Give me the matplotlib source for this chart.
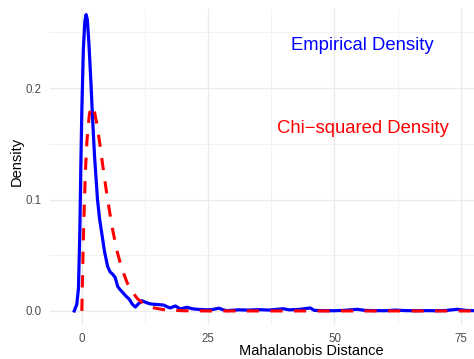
import matplotlib.pyplot as plt

plt.rcParams["font.family"] = ["Liberation Sans", "DejaVu Sans"]

# empirical density of the Mahalanobis distances
emp_x = [-1.5, -1.0, -0.67, -0.4, -0.2, 0.0, 0.3, 0.6, 0.85, 1.1, 1.4, 1.8,
         2.1, 2.5, 3.1, 3.5, 4.0, 4.5, 5.1, 5.6, 6.1, 6.6, 7.1, 7.6, 8.2,
         8.8, 9.4, 10.0, 10.6, 11.2, 11.9, 12.6, 13.4, 14.2, 15.2, 16.2,
         17.0, 17.5, 18.5, 19.5, 20.8, 21.8, 22.8, 24.8, 26.0, 27.1, 28.0,
         28.7, 31.0, 33.0, 35.0, 37.0, 39.9, 41.0, 43.0, 45.2, 46.0, 48.0,
         50.0, 52.0, 54.5, 56.0, 58.0, 60.0, 62.0, 64.0, 66.0, 68.0, 70.0,
         72.0, 74.3, 76.0, 78.0]
emp_y = [0.0, 0.006, 0.02, 0.07, 0.13, 0.18, 0.235, 0.26, 0.266, 0.261,
         0.24, 0.205, 0.175, 0.14, 0.1, 0.083, 0.068, 0.053, 0.04, 0.035,
         0.033, 0.03, 0.022, 0.019, 0.016, 0.013, 0.0105, 0.006, 0.0035,
         0.0065, 0.0092, 0.0078, 0.0065, 0.006, 0.0057, 0.0053, 0.0035,
         0.0027, 0.0045, 0.0018, 0.0033, 0.002, 0.0015, 0.001, 0.0014,
         0.0025, 0.001, 0.0003, 0.001, 0.0008, 0.0012, 0.0008, 0.002, 0.001,
         0.0014, 0.0027, 0.0005, 0.0003, 0.0002, 0.0006, 0.0015, 0.0005,
         0.0003, 0.0002, 0.0008, 0.0003, 0.0002, 0.0003, 0.0002, 0.0004,
         0.0015, 0.0005, 0.0002]

# chi-squared reference density
chi_x = [0.0, 0.25, 0.5, 0.75, 1.0, 1.5, 2.0, 2.5, 3.0, 3.5, 4.0, 5.0, 6.0,
         7.0, 8.0, 9.0, 10.0, 11.0, 12.0, 14.0, 16.0, 18.0, 20.0, 25.0, 78.0]
chi_y = [0.0, 0.055, 0.097, 0.129, 0.152, 0.177, 0.184, 0.179, 0.167, 0.152,
         0.135, 0.103, 0.075, 0.053, 0.037, 0.025, 0.017, 0.011, 0.0074,
         0.003, 0.0013, 0.0006, 0.0002, 0.0, 0.0]

x_ticks = [0, 25, 50, 75]
y_ticks = [0.0, 0.1, 0.2]

fig = plt.figure(figsize=(4.74, 3.59), dpi=100)
# the panel runs past the right edge, as in the reference
ax = fig.add_axes([50 / 474, 1 - 325 / 359, 522 / 474, 316 / 359])

ax.plot(emp_x, emp_y, color="#0000FF", linewidth=2.3, zorder=3)
ax.plot(chi_x, chi_y, color="#FF0000", linewidth=2.2, dashes=(4, 3.7),
        dash_capstyle="butt", zorder=4)

ax.text(55.6, 0.238, "Empirical Density", color="#0000FF", fontsize=13.3,
        ha="center", va="center")
ax.text(55.6, 0.164, "Chi\u2212squared Density", color="#FF0000", fontsize=13.3,
        ha="center", va="center")

ax.set_xlim(-6.3, 97)
ax.set_ylim(-0.0126, 0.271)

ax.set_xticks(x_ticks)
ax.set_xticklabels([str(t) for t in x_ticks])
ax.set_xticks([12.5, 37.5, 62.5, 87.5], minor=True)
ax.set_yticks(y_ticks)
ax.set_yticklabels(["0.0", "0.1", "0.2"])
ax.set_yticks([0.05, 0.15, 0.25], minor=True)

ax.grid(True, which="major", color="#EBEBEB", linewidth=1.0)
ax.grid(True, which="minor", color="#F2F2F2", linewidth=0.7)
ax.set_axisbelow(True)

for s in ax.spines.values():
    s.set_visible(False)

ax.tick_params(which="both", length=0, labelsize=8.3, labelcolor="#4D4D4D")
ax.tick_params(axis="x", pad=6)
ax.tick_params(axis="y", pad=6)

ax.set_xlabel("Mahalanobis Distance", fontsize=10.5)
ax.set_ylabel("Density", fontsize=10.5)
ax.xaxis.set_label_coords((311 - 50) / 522, (325 - 344) / 316)
ax.yaxis.set_label_coords((24 - 50) / 522, (325 - 161) / 316)

fig.savefig("out.png", dpi=100)
